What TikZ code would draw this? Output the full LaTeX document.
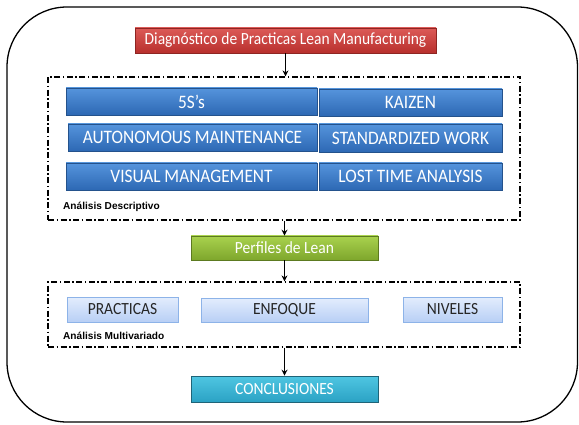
\documentclass[tikz,border=0pt]{standalone}
\usepackage{fontspec}
\setmainfont{Carlito}
\newfontfamily\labfont{Liberation Sans}
\usetikzlibrary{arrows.meta,shadings}
\newcommand\vstr[1]{\scalebox{1}[1.1]{#1}}
\definecolor{redT}{HTML}{DC5A57}
\definecolor{redB}{HTML}{B8302D}
\definecolor{redD}{HTML}{8E2522}
\definecolor{bluT}{HTML}{5594DC}
\definecolor{bluB}{HTML}{2D68B4}
\definecolor{bluD}{HTML}{24528C}
\definecolor{grnT}{HTML}{A9D24E}
\definecolor{grnB}{HTML}{7EA62C}
\definecolor{grnD}{HTML}{5C7A20}
\definecolor{cyaT}{HTML}{4FC6E2}
\definecolor{cyaB}{HTML}{2BA2C4}
\definecolor{cyaD}{HTML}{1F6478}
\definecolor{lbT}{HTML}{E3EDFD}
\definecolor{lbB}{HTML}{B8CFF5}
\definecolor{lbD}{HTML}{8DB3E8}
\tikzset{
  boxtext/.style={font=\fontsize{15.5}{18}\selectfont, inner sep=0pt, align=center},
  redbox/.style={boxtext, top color=redT, bottom color=redB, draw=redD, line width=0.6pt, text=white},
  bluebox/.style={boxtext, font=\fontsize{17.3}{19}\selectfont, top color=bluT, bottom color=bluB, draw=bluD, line width=0.6pt, text=white},
  greenbox/.style={boxtext, top color=grnT, bottom color=grnB, draw=grnD, line width=0.6pt, text=white},
  cyanbox/.style={boxtext, top color=cyaT, bottom color=cyaB, draw=cyaD, line width=0.6pt, text=white},
  lightbox/.style={boxtext, top color=lbT, bottom color=lbB, draw=lbD, line width=0.8pt, text=black!85},
  groupbox/.style={draw=black, line width=1.2pt, dash pattern=on 6pt off 2.5pt on 1.5pt off 2.5pt, inner sep=0pt},
  grouplabel/.style={font=\labfont\bfseries\fontsize{10.1}{12}\selectfont, anchor=west, inner sep=0pt},
  flow/.style={draw=black, line width=1.2pt, -{Stealth[length=6pt,width=6pt]}},
  frame/.style={draw=black, line width=1.3pt, rounded corners=60pt}
}
\begin{document}
\begin{tikzpicture}[x=1pt,y=-1pt]
\useasboundingbox (0,0) rectangle (579,425);
\draw[frame] (7,7) rectangle (577.5,422);
% top box
\node[redbox, minimum width=301pt, minimum height=25pt] (diag) at (285.5,40.5) {\vstr{Diagnóstico de Practicas Lean Manufacturing}};
% group 1
\node[groupbox, minimum width=472pt, minimum height=143pt] (grp1) at (284,148.5) {};
\node[bluebox, minimum width=251pt, minimum height=27pt] (s5) at (191.5,101.5) {\vstr{5S’s}};
\node[bluebox, minimum width=183pt, minimum height=27pt] (kaizen) at (410.5,102.5) {\vstr{KAIZEN}};
\node[bluebox, minimum width=249pt, minimum height=27pt] (auto) at (192.5,137.5) {\vstr{AUTONOMOUS MAINTENANCE}};
\node[bluebox, minimum width=183pt, minimum height=28pt] (std) at (410.5,138) {\vstr{STANDARDIZED WORK}};
\node[bluebox, minimum width=251pt, minimum height=27pt] (vis) at (191.5,176.5) {\vstr{VISUAL MANAGEMENT}};
\node[bluebox, minimum width=183pt, minimum height=27pt] (lost) at (410.5,176.5) {\vstr{LOST TIME ANALYSIS}};
\node[grouplabel] (lab1) at (63,207) {Análisis Descriptivo};
% profiles
\node[greenbox, minimum width=187pt, minimum height=24pt] (perf) at (284.5,248) {\vstr{Perfiles de Lean}};
% group 2
\node[groupbox, minimum width=472pt, minimum height=65pt] (grp2) at (284,314.5) {};
\node[lightbox, minimum width=111pt, minimum height=25pt] (prac) at (122.5,309.5) {\vstr{PRACTICAS}};
\node[lightbox, minimum width=167pt, minimum height=24pt] (enf) at (284.5,310) {\vstr{ENFOQUE}};
\node[lightbox, minimum width=99pt, minimum height=25pt] (niv) at (452.5,309.5) {\vstr{NIVELES}};
\node[grouplabel] (lab2) at (63,336) {Análisis Multivariado};
% conclusions
\node[cyanbox, minimum width=187pt, minimum height=26pt] (conc) at (284.5,389) {\vstr{CONCLUSIONES}};
% arrows
\draw[flow] (diag.south) -- (diag.south |- grp1.north);
\draw[flow] (perf.north |- grp1.south) -- (perf.north);
\draw[flow] (perf.south) -- (perf.south |- grp2.north);
\draw[flow] (conc.north |- grp2.south) -- (conc.north);
\end{tikzpicture}
\end{document}
